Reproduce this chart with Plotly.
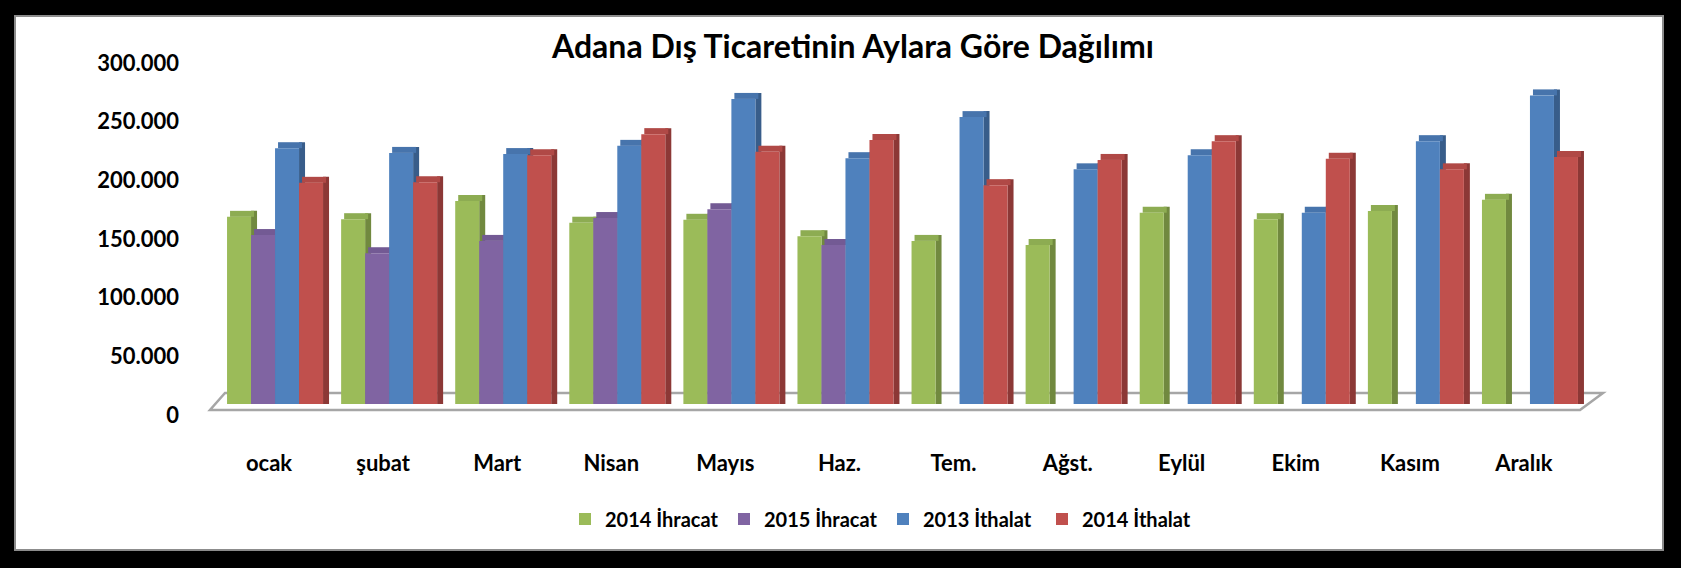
import plotly.graph_objects as go

# ---------------- data ----------------
months = ["ocak", "şubat", "Mart", "Nisan", "Mayıs", "Haz.", "Tem.", "Ağst.",
          "Eylül", "Ekim", "Kasım", "Aralık"]
ihracat_2014 = [159500, 157500, 173000, 154500, 157000, 143000, 139000, 135500,
                163000, 157500, 164500, 174000]
ihracat_2015 = [144000, 128500, 139000, 158500, 166000, 135500, None, None,
                None, None, None, None]
ithalat_2013 = [218000, 214000, 213000, 220000, 260000, 209500, 244500, 200000,
                212000, 163000, 224000, 263000]
ithalat_2014 = [188500, 189000, 212000, 230000, 215000, 225000, 186500, 208000,
                224000, 209000, 200000, 210500]
series_names = ["2014 İhracat", "2015 İhracat", "2013 İthalat", "2014 İthalat"]
y_ticks = [0, 50000, 100000, 150000, 200000, 250000, 300000]
title_text = "Adana Dış Ticaretinin Aylara Göre Dağılımı"

# ---------------- styling ----------------
front_colors = ["#9BBB59", "#8064A2", "#4F81BD", "#C0504D"]
side_colors = ["#71893F", "#5E4A78", "#385D8A", "#8C3836"]
top_colors = ["#8DAC52", "#735A94", "#4774AC", "#B04946"]

W, H = 1681, 568
L, R, T, B = 218, 94, 52, 164
PW, PH = W - L - R, H - T - B
YMAX = 300000
cat_px = PW / 12.0
bw = 24 / cat_px          # bar width in category units
sw = 6 / cat_px           # side depth (horizontal)
tshift = 3 / cat_px
depth_val = 6 / PH * YMAX  # top face height in data units


def X(px):
    return (px - L) / PW


def Y(py):
    return (H - B - py) / PH


data = [ihracat_2014, ihracat_2015, ithalat_2013, ithalat_2014]
fig = go.Figure()

# side and top faces first
for i, vals in enumerate(data):
    off = -2 * bw + i * bw
    fig.add_trace(go.Bar(
        x=months, y=[None if v is None else v + depth_val for v in vals],
        base=0, offset=off + bw, width=sw,
        marker=dict(color=side_colors[i], line=dict(width=0)),
        showlegend=False, hoverinfo="skip"))
for i, vals in enumerate(data):
    off = -2 * bw + i * bw
    fig.add_trace(go.Bar(
        x=months, y=[None if v is None else depth_val for v in vals],
        base=vals, offset=off + tshift, width=bw,
        marker=dict(color=top_colors[i], line=dict(width=0)),
        showlegend=False, hoverinfo="skip"))
# front faces
for i, vals in enumerate(data):
    off = -2 * bw + i * bw
    fig.add_trace(go.Bar(
        x=months, y=vals, offset=off, width=bw, name=series_names[i],
        marker=dict(color=front_colors[i], line=dict(width=0))))

shapes = [
    dict(type="rect", xref="paper", yref="paper", layer="below",
         x0=X(15), x1=X(1663), y0=Y(550), y1=Y(16),
         fillcolor="white", line=dict(color="#8C8C8C", width=2)),
    dict(type="path", xref="paper", yref="paper", layer="below",
         path=f"M{X(210)},{Y(410)} L{X(1580)},{Y(410)} L{X(1603)},{Y(393)} L{X(225)},{Y(393)} Z",
         fillcolor="white", line=dict(color="#A6A6A6", width=2.5)),
]

fig.update_layout(
    width=W, height=H,
    barmode="overlay",
    paper_bgcolor="black",
    plot_bgcolor="rgba(0,0,0,0)",
    margin=dict(l=L, r=R, t=T, b=B, pad=0),
    separators=",.",
    shapes=shapes,
    title=dict(text="<b>" + title_text + "</b>", xref="container", yref="container",
               x=853 / W, y=1 - 47 / H, xanchor="center", yanchor="middle",
               font=dict(family="Lato", size=32, color="black")),
    xaxis=dict(type="category", range=[-0.5, 11.5], showgrid=False, zeroline=False,
               showline=False, ticks="", ticklabelstandoff=44, ticklabelshift=-6,
               tickfont=dict(family="Lato", size=22, color="black", weight="bold"),
               automargin=False),
    yaxis=dict(range=[0, YMAX], tickvals=y_ticks, tickformat=",d", showgrid=False,
               zeroline=False, showline=False, ticks="", ticklabelstandoff=38,
               ticklabelshift=11,
               tickfont=dict(family="Lato", size=22, color="black", weight="bold"),
               automargin=False),
    legend=dict(orientation="h", x=X(883), xanchor="center", y=Y(519), yanchor="middle",
                font=dict(family="Lato", size=20, color="black", weight="bold"),
                bgcolor="rgba(0,0,0,0)", entrywidth=114, itemwidth=30,
                traceorder="normal"),
)

fig.write_html(
    "out.html",
    config={"displayModeBar": False},
    post_script="document.body.style.margin='0';document.body.style.background='black';",
)
